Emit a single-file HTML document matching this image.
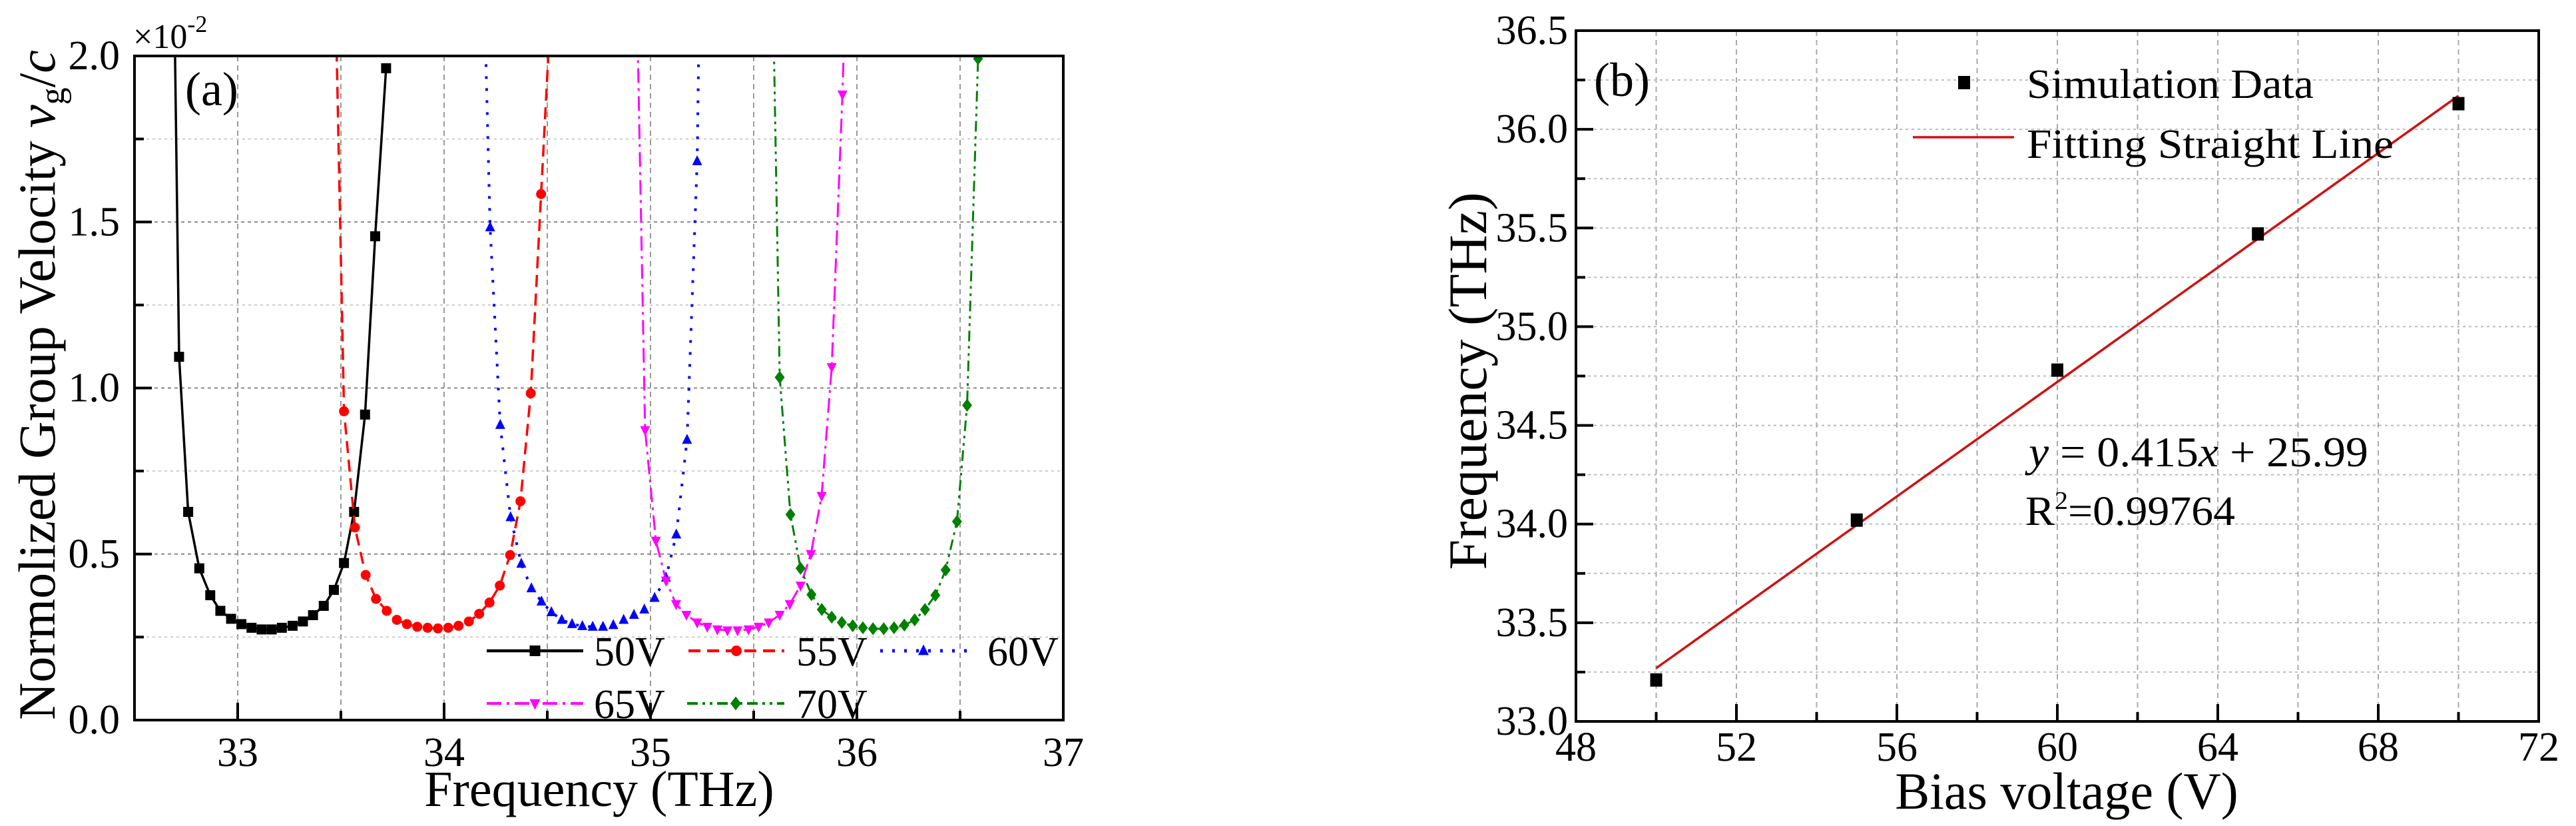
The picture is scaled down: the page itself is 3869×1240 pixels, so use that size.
<!DOCTYPE html>
<html><head><meta charset="utf-8"><style>
html,body{margin:0;padding:0;background:#fff;}
svg{display:block;font-family:"Liberation Serif",serif;}
</style></head><body>
<svg id="fig" width="3869" height="1240" viewBox="0 0 3869 1240" xmlns="http://www.w3.org/2000/svg">
<defs>
<clipPath id="clipA"><rect x="202" y="84" width="1395" height="997"/></clipPath>
<clipPath id="clipB"><rect x="2367" y="46" width="1446" height="1037"/></clipPath>
</defs>
<g id="panelA"></g>
<g id="panelB"></g>
</svg>
<script>
// ---------- Panel (a) data ----------
const freq50 = [32.69,32.716,32.76,32.814,32.867,32.916,32.968,33.018,33.067,33.116,33.165,33.214,33.266,33.316,33.365,33.417,33.466,33.515,33.564,33.617,33.666,33.719];
const vel50  = [2.3,1.094,0.627,0.457,0.376,0.329,0.305,0.289,0.278,0.273,0.273,0.278,0.284,0.297,0.316,0.344,0.392,0.473,0.627,0.92,1.457,1.963];
const freq55 = [33.47,33.515,33.568,33.62,33.67,33.722,33.771,33.82,33.87,33.92,33.97,34.02,34.07,34.12,34.17,34.22,34.27,34.32,34.37,34.42,34.47,34.53];
const vel55  = [2.3,0.93,0.58,0.437,0.365,0.329,0.302,0.289,0.281,0.278,0.276,0.278,0.284,0.297,0.32,0.354,0.405,0.497,0.659,0.984,1.584,2.3];
const freq60 = [34.19,34.223,34.272,34.322,34.374,34.423,34.472,34.52,34.57,34.62,34.67,34.72,34.77,34.82,34.87,34.92,34.97,35.02,35.075,35.125,35.177,35.226,35.24];
const vel60  = [2.3,1.484,0.889,0.611,0.471,0.397,0.357,0.325,0.302,0.289,0.283,0.281,0.281,0.286,0.302,0.317,0.333,0.368,0.429,0.559,0.844,1.683,2.3];
const freq65 = [34.93,34.974,35.026,35.075,35.124,35.174,35.226,35.275,35.324,35.373,35.422,35.475,35.524,35.573,35.626,35.675,35.727,35.777,35.829,35.878,35.93,35.95];
const vel65  = [2.3,0.873,0.54,0.42,0.349,0.317,0.294,0.281,0.273,0.27,0.27,0.273,0.281,0.294,0.317,0.349,0.405,0.5,0.675,1.063,1.884,2.3];
const freq70 = [35.59,35.626,35.678,35.727,35.78,35.83,35.878,35.927,35.98,36.029,36.078,36.13,36.18,36.23,36.28,36.33,36.38,36.43,36.485,36.534,36.587,36.6];
const vel70  = [2.3,1.032,0.619,0.457,0.378,0.333,0.31,0.294,0.284,0.278,0.275,0.275,0.278,0.286,0.302,0.333,0.376,0.452,0.598,0.948,1.992,2.3];
const xTicksA = [33,34,35,36,37];
const yTicksA = ["0.0","0.5","1.0","1.5","2.0"];
// ---------- Panel (b) data ----------
const voltages = [50,55,60,65,70];
const simFreq  = [33.21,34.02,34.78,35.47,36.13];
const fitX = [50,70];
const fitY = [33.27,36.17];
const xTicksB = [48,52,56,60,64,68,72];
const yTicksB = ["33.0","33.5","34.0","34.5","35.0","35.5","36.0","36.5"];

const NS="http://www.w3.org/2000/svg";
function mk(parent, tag, attrs, text){
  const e=document.createElementNS(NS,tag);
  for(const k in attrs) e.setAttribute(k,attrs[k]);
  if(text!==undefined) e.textContent=text;
  parent.appendChild(e); return e;
}
const AX0=202, AX1=1597, AY0=1081, AY1=84;
function xA(f){return AX0+(f-32.5)/(37-32.5)*(AX1-AX0);}
function yA(v){return AY0-(v/2.0)*(AY0-AY1);}
const BX0=2367, BX1=3813, BY0=1083, BY1=46;
function xB(v){return BX0+(v-48)/(72-48)*(BX1-BX0);}
function yB(f){return BY0-(f-33)/(36.5-33)*(BY0-BY1);}

// ======== Panel A ========
const A=document.getElementById('panelA');
const gridA=mk(A,'g',{});


for(let f=33;f<37;f+=0.5){
  const l=mk(gridA,'line',{x1:xA(f),x2:xA(f),y1:AY1,y2:AY0,stroke:'#999','stroke-width':2,'stroke-dasharray':'8,6'});
  
  
}
for(let v=0.25;v<2;v+=0.25){
  const major=Math.abs(v*2-Math.round(v*2))<1e-6;
  const l=mk(gridA,'line',{x1:AX0,x2:AX1,y1:yA(v),y2:yA(v),stroke:major?'#888':'#ccc','stroke-width':2,'stroke-dasharray':major?'5,5':'4,5'});
  
  
}
const seriesA=[
 {f:freq50,v:vel50,c:'#000',dash:'',m:'square',w:3.5,name:'50V'},
 {f:freq55,v:vel55,c:'#ff0000',dash:'18,10',m:'circle',w:3.5,name:'55V'},
 {f:freq60,v:vel60,c:'#0000ff',dash:'4,14',m:'tri',w:4,name:'60V'},
 {f:freq65,v:vel65,c:'#ff00ff',dash:'22,8,4,8',m:'itri',w:3,name:'65V'},
 {f:freq70,v:vel70,c:'#008000',dash:'16,7,4,7,4,7',m:'diamond',w:3,name:'70V'}
];
function marker(g,type,x,y,c,s){
  let e;
  if(type==='square') e=mk(g,'rect',{x:x-s,y:y-s,width:2*s,height:2*s,fill:c});
  else if(type==='circle') e=mk(g,'circle',{cx:x,cy:y,r:s,fill:c});
  else if(type==='tri') e=mk(g,'polygon',{points:`${x},${y-s*1.2} ${x-s},${y+s*0.8} ${x+s},${y+s*0.8}`,fill:c});
  else if(type==='itri') e=mk(g,'polygon',{points:`${x},${y+s*1.2} ${x-s},${y-s*0.8} ${x+s},${y-s*0.8}`,fill:c});
  else e=mk(g,'polygon',{points:`${x},${y-s*1.3} ${x-s},${y} ${x},${y+s*1.3} ${x+s},${y}`,fill:c});
  return e;
}
const plotA=mk(A,'g',{'clip-path':'url(#clipA)'});


seriesA.forEach(s=>{
  const g=mk(plotA,'g',{});
  
  
  const pts=s.f.map((f,i)=>xA(f).toFixed(1)+','+yA(s.v[i]).toFixed(1)).join(' ');
  const pl=mk(g,'polyline',{points:pts,fill:'none',stroke:s.c,'stroke-width':s.w,'stroke-dasharray':s.dash});
  
  
  s.f.forEach((f,i)=>{
    if(s.v[i]>2.05) return;
    const m=marker(g,s.m,xA(f),yA(s.v[i]),s.c,7.5);
    
    
  });
});
const frA=mk(A,'rect',{x:AX0,y:AY1,width:AX1-AX0,height:AY0-AY1,fill:'none',stroke:'#000','stroke-width':4});


for(let f=33;f<37;f+=0.5){
  const major=Number.isInteger(f);
  const t=mk(A,'line',{x1:xA(f),x2:xA(f),y1:AY0,y2:AY0-(major?26:14),stroke:'#000','stroke-width':4});
  
  
}
for(let v=0.25;v<2;v+=0.25){
  const major=Math.abs(v*2-Math.round(v*2))<1e-6;
  const t=mk(A,'line',{x1:AX0,x2:AX0+(major?26:14),y1:yA(v),y2:yA(v),stroke:'#000','stroke-width':4});
  
  
}
xTicksA.forEach(f=>{
  const t=mk(A,'text',{x:xA(f),y:1150,'font-size':62,'text-anchor':'middle'},String(f));
  
  
});
yTicksA.forEach(s=>{
  const t=mk(A,'text',{x:180,y:yA(parseFloat(s))+20,'font-size':62,'text-anchor':'end'},s);
  
  
});
const mul=mk(A,'text',{x:200,y:72,'font-size':52},'×10');


mk(mul,'tspan',{dy:-24,'font-size':36},'-2');
const la=mk(A,'text',{x:278,y:158,'font-size':72},'(a)');


const xtA=mk(A,'text',{x:900,y:1210,'font-size':76,'text-anchor':'middle'},'Frequency (THz)');


const ytA=mk(A,'text',{x:0,y:0,'font-size':78,'text-anchor':'middle',transform:'translate(82,578) rotate(-90)'},'Normolized Group Velocity ');


mk(ytA,'tspan',{'font-style':'italic'},'v');
mk(ytA,'tspan',{dy:14,'font-size':52},'g');
mk(ytA,'tspan',{dy:-14},'/');
mk(ytA,'tspan',{'font-style':'italic'},'c');
const legA=[
 {x1:731,x2:876,tx:892,y:977,s:0},{x1:1034,x2:1178,tx:1196,y:977,s:1},{x1:1322,x2:1452,tx:1483,y:977,s:2},
 {x1:731,x2:876,tx:892,y:1056,s:3},{x1:1032,x2:1178,tx:1196,y:1056,s:4}
];
const lgA=mk(A,'g',{});


legA.forEach(L=>{
  const s=seriesA[L.s];
  const g=mk(lgA,'g',{});
  
  
  mk(g,'line',{x1:L.x1,x2:L.x2,y1:L.y,y2:L.y,stroke:s.c,'stroke-width':s.w+1,'stroke-dasharray':s.dash});
  marker(g,s.m,(L.x1+L.x2)/2,L.y,s.c,8);
  mk(g,'text',{x:L.tx,y:L.y+22,'font-size':62},s.name);
});

// ======== Panel B ========
const B=document.getElementById('panelB');
const gridB=mk(B,'g',{});


for(let v=50;v<72;v+=2){
  const l=mk(gridB,'line',{x1:xB(v),x2:xB(v),y1:BY1,y2:BY0,stroke:'#aaa','stroke-width':2,'stroke-dasharray':'8,6'});
  
  
}
for(let f=33.25;f<36.5;f+=0.25){
  const l=mk(gridB,'line',{x1:BX0,x2:BX1,y1:yB(f),y2:yB(f),stroke:'#bbb','stroke-width':2,'stroke-dasharray':'4,5'});
  
  
}
const fit=mk(B,'line',{x1:xB(fitX[0]),y1:yB(fitY[0]),x2:xB(fitX[1]),y2:yB(fitY[1]),stroke:'#d01010','stroke-width':3.5});


voltages.forEach((v,i)=>{
  const r=mk(B,'rect',{x:xB(v)-9,y:yB(simFreq[i])-10,width:18,height:20,fill:'#000'});
  
  
});
const frB=mk(B,'rect',{x:BX0,y:BY1,width:BX1-BX0,height:BY0-BY1,fill:'none',stroke:'#000','stroke-width':4});


for(let v=50;v<72;v+=2){
  const major=(v%4===0);
  const t=mk(B,'line',{x1:xB(v),x2:xB(v),y1:BY0,y2:BY0-(major?26:14),stroke:'#000','stroke-width':4});
  
  
}
for(let f=33.25;f<36.5;f+=0.25){
  const major=Math.abs(f*2-Math.round(f*2))<1e-6;
  const t=mk(B,'line',{x1:BX0,x2:BX0+(major?26:14),y1:yB(f),y2:yB(f),stroke:'#000','stroke-width':4});
  
  
}
xTicksB.forEach(v=>{
  const t=mk(B,'text',{x:xB(v),y:1142,'font-size':62,'text-anchor':'middle'},String(v));
  
  
});
yTicksB.forEach(s=>{
  const t=mk(B,'text',{x:2355,y:yB(parseFloat(s))+20,'font-size':62,'text-anchor':'end'},s);
  
  
});
const lb=mk(B,'text',{x:2394,y:144,'font-size':72},'(b)');


const xtB=mk(B,'text',{x:3104,y:1214,'font-size':78,'text-anchor':'middle'},'Bias voltage (V)');


const ytB=mk(B,'text',{x:0,y:0,'font-size':82,'text-anchor':'middle',transform:'translate(2232,572) rotate(-90)'},'Frequency (THz)');


const lgB=mk(B,'g',{});


const le1=mk(lgB,'g',{});


mk(le1,'rect',{x:2941,y:114,width:18,height:20,fill:'#000'});
mk(le1,'text',{x:3044,y:147,'font-size':62,textLength:431,lengthAdjust:'spacingAndGlyphs'},'Simulation Data');
const le2=mk(lgB,'g',{});


mk(le2,'line',{x1:2873,x2:3025,y1:206,y2:206,stroke:'#d01010','stroke-width':3.5});
mk(le2,'text',{x:3044,y:237,'font-size':62,textLength:551,lengthAdjust:'spacingAndGlyphs'},'Fitting Straight Line');
const eq=mk(B,'text',{x:3047,y:700,'font-size':64,textLength:510,lengthAdjust:'spacingAndGlyphs'},'');


mk(eq,'tspan',{'font-style':'italic'},'y');
mk(eq,'tspan',{},' = 0.415');
mk(eq,'tspan',{'font-style':'italic'},'x');
mk(eq,'tspan',{},' + 25.99');
const r2=mk(B,'text',{x:3042,y:788,'font-size':62,textLength:315,lengthAdjust:'spacingAndGlyphs'},'R');


mk(r2,'tspan',{dy:-24,'font-size':38},'2');
mk(r2,'tspan',{dy:24},'=0.99764');
</script>
</body></html>
